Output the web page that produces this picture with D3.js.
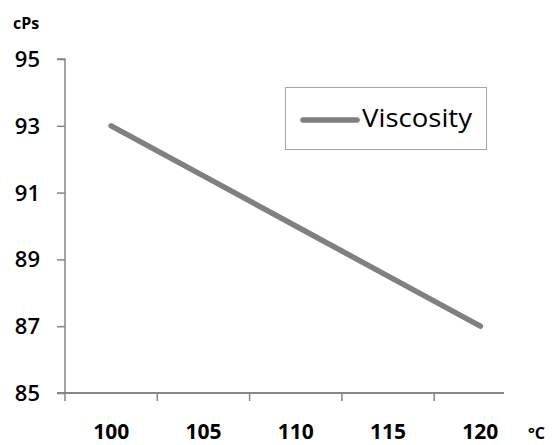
<!DOCTYPE html>
<html>
<head>
<meta charset="utf-8">
<script src="https://cdn.jsdelivr.net/npm/d3@7"></script>
<style>
  html, body { margin: 0; padding: 0; background: #fff; }
  svg { display: block; font-family: "Open Sans", "Liberation Sans", sans-serif; }
</style>
</head>
<body>
<svg id="chart" width="555" height="445"></svg>
<script>
const categories = ["100", "105", "110", "115", "120"];
const viscosity = [93, 91.5, 90, 88.5, 87];
const yTicks = [85, 87, 89, 91, 93, 95];
const seriesName = "Viscosity";
const yUnit = "cPs";
const xUnit = "°C";

const svg = d3.select("#chart");
const plotLeft = 65, bandEnd = 526.5, axisEnd = 504, plotTop = 59, plotBottom = 393;

const x = d3.scaleBand().domain(categories).range([plotLeft, bandEnd]).padding(0);
const y = d3.scaleLinear().domain([85, 95]).range([plotBottom, plotTop]);
const axisColor = "#868686";

// Y axis
const yAxis = svg.append("g").attr("transform", `translate(${plotLeft},0)`)
  .call(d3.axisLeft(y).tickValues(yTicks).tickSize(8).tickPadding(17).tickFormat(d3.format("d")));
yAxis.select(".domain").attr("stroke", axisColor).attr("stroke-width", 1.5).attr("d", `M-8,${plotTop}H0V${plotBottom}`);
yAxis.selectAll(".tick line").attr("stroke", axisColor).attr("stroke-width", 1.5);
yAxis.selectAll(".tick text").attr("fill", "#000").attr("font-size", 22).attr("font-weight", 600)
  .attr("font-family", "\"Open Sans\", sans-serif").attr("dy", "0.34em");

// X axis
const xg = svg.append("g");
xg.append("line").attr("x1", plotLeft - 8).attr("x2", axisEnd).attr("y1", plotBottom).attr("y2", plotBottom)
  .attr("stroke", axisColor).attr("stroke-width", 2);
xg.selectAll("line.tick").data(categories).join("line").attr("class", "tick")
  .attr("x1", d => x(d)).attr("x2", d => x(d)).attr("y1", plotBottom).attr("y2", plotBottom + 8)
  .attr("stroke", axisColor).attr("stroke-width", 1.5);
xg.selectAll("text").data(categories).join("text")
  .attr("x", d => x(d) + x.bandwidth() / 2).attr("y", 439)
  .attr("text-anchor", "middle").attr("font-size", 21).attr("font-weight", "bold").attr("fill", "#000")
  .text(d => d);

// Units
svg.append("text").attr("x", 13).attr("y", 29).attr("font-size", 16).attr("font-weight", "bold").text(yUnit);
svg.append("text").attr("x", 528).attr("y", 439).attr("font-size", 16).attr("font-weight", "bold").text(xUnit);

// Line
const line = d3.line().x((d, i) => x(categories[i]) + x.bandwidth() / 2).y(d => y(d));
svg.append("path").datum(viscosity).attr("d", line)
  .attr("fill", "none").attr("stroke", "#808080").attr("stroke-width", 5.5).attr("stroke-linecap", "round");

// Legend
const lg = svg.append("g");
lg.append("rect").attr("x", 285.5).attr("y", 87.5).attr("width", 201).attr("height", 62)
  .attr("fill", "#fff").attr("stroke", "#a6a6a6").attr("stroke-width", 1);
lg.append("line").attr("x1", 303).attr("x2", 357).attr("y1", 120).attr("y2", 120)
  .attr("stroke", "#808080").attr("stroke-width", 5.5).attr("stroke-linecap", "round");
lg.append("text").attr("x", 362).attr("y", 127).attr("font-size", 25).attr("fill", "#000")
  .attr("textLength", 110).attr("lengthAdjust", "spacingAndGlyphs").text(seriesName);
</script>
</body>
</html>
